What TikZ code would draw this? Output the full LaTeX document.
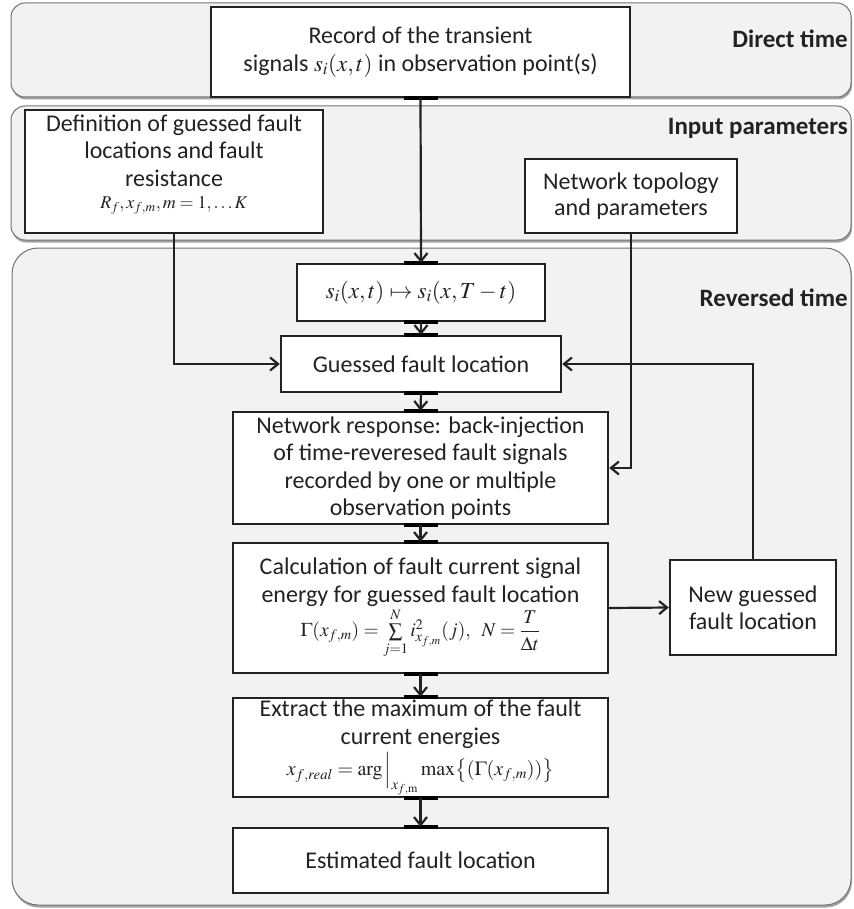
\documentclass[tikz,border=0pt]{standalone}
\usepackage{mathptmx}
\usepackage[no-math]{fontspec}
\setmainfont{Carlito}
\usetikzlibrary{arrows.meta,shadows}
\definecolor{panelbg}{HTML}{F1F2F4}
\definecolor{ink}{HTML}{222222}
\begin{document}
\begin{tikzpicture}[x=1pt,y=-1pt,
  panel/.style={draw=black!55, line width=1pt, fill=panelbg, rounded corners=14pt,
    drop shadow={shadow xshift=1pt,shadow yshift=-2.5pt,opacity=0.55,fill=black!65}},
  box/.style={draw=ink, line width=2.4pt, fill=white, align=center, inner sep=0pt,
    text=ink, font=\fontsize{24}{27.5}\selectfont},
  arr/.style={draw=ink, line width=2.2pt, -{Straight Barb[length=8pt,width=13pt,line width=2.2pt]}},
  jbar/.style={draw=black, line width=4pt},
  lbl/.style={font=\bfseries\fontsize{25}{28}\selectfont, anchor=east, inner sep=0pt, text=ink}]
\useasboundingbox (0,0) rectangle (853,909);
\fill[white] (0,0) rectangle (853,909);
% panels
\path[panel] (11,3) rectangle (851,97);
\path[panel] (11,106) rectangle (851,240);
\path[panel, rounded corners=26pt] (12,248) rectangle (851,905);
% labels
\node[lbl] (ldirect) at (848,39) {Direct time};
\node[lbl] (linput) at (848,128) {Input parameters};
\node[lbl] (lrev) at (848,298) {Reversed time};
% boxes
\node[box, minimum width=419pt, minimum height=90pt] (rec) at (420.5,52)
  {Record of the transient\\ signals {\fontsize{23}{24}\selectfont$s_i(x,t)$} in observation point(s)};
\node[box, minimum width=298pt, minimum height=123pt] (def) at (174,171.5)
  {Definition of guessed fault\\ locations and fault\\ resistance\\[-5pt]
   {\fontsize{18}{20}\selectfont$R_f, x_{f,m}, m=1,\ldots K$}\\[-8pt]\mbox{}};
\node[box, minimum width=212pt, minimum height=74pt, font=\fontsize{24}{26}\selectfont] (top) at (631,196)
  {Network topology\\ and parameters};
\node[box, minimum width=248pt, minimum height=57pt] (si) at (421,292.5)
  {\fontsize{23}{26}\selectfont$s_i(x,t)\mapsto s_i(x,T-t)$};
\node[box, minimum width=280pt, minimum height=56pt] (guess) at (421,364)
  {Guessed fault location};
\node[box, minimum width=375pt, minimum height=130pt] (calc) at (420.5,608)
  {Calculation of fault current signal\\ energy for guessed fault location\\[1pt]
   {\fontsize{19.5}{20}\selectfont$\Gamma(x_{f,m})=\sum\limits_{j=1}^{N} i^{2}_{x_{f,m}}(j),\ \ N={\displaystyle\frac{T}{\Delta t}}$}};
\node[box, minimum width=375pt, minimum height=112pt] (resp) at (420.5,468)
  {Network response: back-injection\\ of time-reveresed fault signals\\ recorded by one or multiple\\ observation points};
\node[box, minimum width=166pt, minimum height=95pt] (newg) at (753,607.5)
  {New guessed\\ fault location};
\node[box, minimum width=375pt, minimum height=99pt] (extr) at (420.5,747.5)
  {Extract the maximum of the fault\\ current energies\\[4pt]
   {\fontsize{20}{20}\selectfont$x_{f,real}=\arg\Big|_{x_{f,\mathrm{m}}}\max\bigl\{(\Gamma(x_{f,m}))\bigr\}$}};
\node[box, minimum width=375pt, minimum height=65pt] (est) at (420.5,860.5)
  {Estimated fault location};
% junction bars where connectors meet the boxes
\foreach \n in {rec.south,si.north,si.south,guess.north,guess.south,resp.north,resp.south,calc.north,calc.south,extr.north,extr.south,est.north}
  \draw[jbar] ([xshift=-17pt]\n) -- ([xshift=17pt]\n);
% connectors
\draw[arr] (rec.south) -- (si.north);
\draw[arr] (si.south) -- (guess.north);
\draw[arr] (def.south) |- (guess.west);
\draw[arr] (top.south) |- (resp.east);
\draw[arr] (guess.south) -- (resp.north);
\draw[arr] (resp.south) -- (calc.north);
\draw[arr] (calc.east) -- (newg.west);
\draw[arr] (newg.north) |- (guess.east);
\draw[arr] (calc.south) -- (extr.north);
\draw[arr] (extr.south) -- (est.north);
\end{tikzpicture}
\end{document}
